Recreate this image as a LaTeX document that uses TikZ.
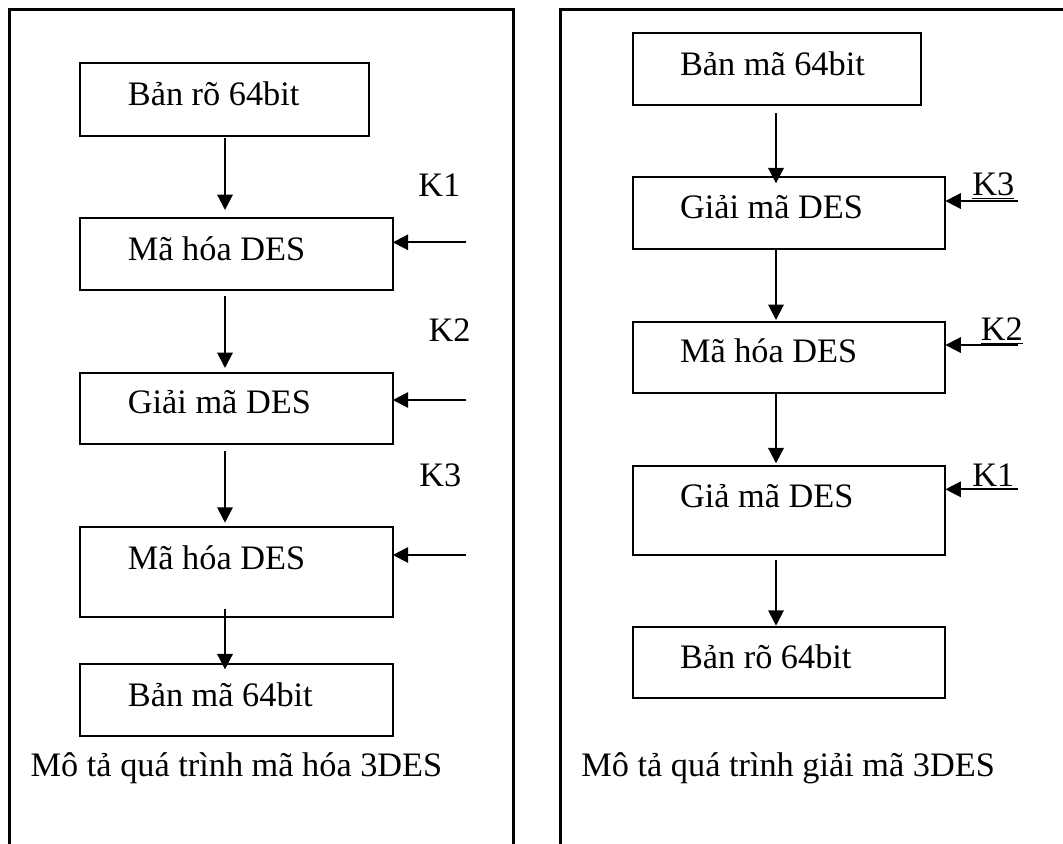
\documentclass[tikz,border=0pt]{standalone}
\usepackage{fontspec}
\setmainfont{Liberation Serif}
\usetikzlibrary{arrows.meta,calc}
% one drawing unit = 0.5pt
\newcommand\pxu{0.5pt}
% key label with an underline
\newcommand\keyline[1]{\setbox0=\hbox{#1}\rlap{\rule[-1.8pt]{\wd0}{0.8pt}}\box0}

\begin{document}
\begin{tikzpicture}[x=0.5pt,y=-0.5pt,
  box/.style={draw,line width=1pt,inner sep=0pt,outer sep=0pt,anchor=north west},
  lbl/.style={inner sep=0pt,anchor=base west,font=\fontsize{17.15}{20}\selectfont},
  arr/.style={line width=1pt,-{Triangle[length=7.7pt,width=7.7pt]}},
  frame/.style={line width=1.5pt}]
\useasboundingbox (0,0) rectangle (1063,843);

% outer frames
\draw[frame] (9,850) -- (9,9) -- (513,9) -- (513,850);
\draw[frame] (560,850) -- (560,9) -- (1070,9);

% ---------- encryption ----------
\coordinate (colL) at (225,0);
\node[box,minimum width=288.6*\pxu,minimum height=72.4*\pxu] (L1) at (80.2,63.3) {};
\node[box,minimum width=312.6*\pxu,minimum height=71.7*\pxu] (L2) at (80.2,218.3) {};
\node[box,minimum width=312.6*\pxu,minimum height=71.6*\pxu] (L3) at (80.2,372.7) {};
\node[box,minimum width=312.6*\pxu,minimum height=89.4*\pxu] (L4) at (80.2,527.3) {};
\node[box,minimum width=312.6*\pxu,minimum height=71.4*\pxu] (L5) at (80.2,664.3) {};

\node[lbl] (tL1) at (127.5,105.3) {Bản rõ 64bit};
\node[lbl] (tL2) at (127.5,260) {Mã hóa DES};
\node[lbl] (tL3) at (127.5,413.3) {Giải mã DES};
\node[lbl] (tL4) at (127.5,569) {Mã hóa DES};
\node[lbl] (tL5) at (127.5,706.7) {Bản mã 64bit};

\draw[arr] ($(L1.south -| colL)+(0,2.3)$) -- ($(L2.north -| colL)+(0,-8.3)$);
\draw[arr] ($(L2.south -| colL)+(0,6)$) -- ($(L3.north -| colL)+(0,-4.7)$);
\draw[arr] ($(L3.south -| colL)+(0,6.7)$) -- ($(L4.north -| colL)+(0,-4.6)$);
\draw[arr] ($(L4.south -| colL)+(0,-7.7)$) -- ($(L5.north -| colL)+(0,5)$);

\node[lbl] (kL1) at (418,196.7) {K1};
\node[lbl] (kL2) at (428.3,341.7) {K2};
\node[lbl] (kL3) at (419,486.7) {K3};
\coordinate (inL1) at (466.3,242.3);
\coordinate (inL2) at (466.3,400);
\coordinate (inL3) at (466.3,555);
\draw[arr] (inL1) -- (inL1 -| L2.east);
\draw[arr] (inL2) -- (inL2 -| L3.east);
\draw[arr] (inL3) -- (inL3 -| L4.east);

\node[lbl] (capL) at (30.3,776.7) {Mô tả quá trình mã hóa 3DES};

% ---------- decryption ----------
\coordinate (colR) at (776,0);
\node[box,minimum width=288.3*\pxu,minimum height=71.7*\pxu] (R1) at (632.6,33.3) {};
\node[box,minimum width=312.8*\pxu,minimum height=71.7*\pxu] (R2) at (632.6,177.3) {};
\node[box,minimum width=312.8*\pxu,minimum height=71.6*\pxu] (R3) at (632.6,321.7) {};
\node[box,minimum width=312.8*\pxu,minimum height=89.3*\pxu] (R4) at (632.6,465.7) {};
\node[box,minimum width=312.8*\pxu,minimum height=71.6*\pxu] (R5) at (632.6,626.7) {};

\node[lbl] (tR1) at (679.6,75) {Bản mã 64bit};
\node[lbl] (tR2) at (679.6,218.3) {Giải mã DES};
\node[lbl] (tR3) at (679.6,362.7) {Mã hóa DES};
\node[lbl] (tR4) at (679.6,507.3) {Giả mã DES};
\node[lbl] (tR5) at (679.6,668.3) {Bản rõ 64bit};

\draw[arr] ($(R1.south -| colR)+(0,8.3)$) -- ($(R2.north -| colR)+(0,6)$);
\draw[arr] (R2.south -| colR) -- ($(R3.north -| colR)+(0,-1.7)$);
\draw[arr] (R3.south -| colR) -- ($(R4.north -| colR)+(0,-2.4)$);
\draw[arr] ($(R4.south -| colR)+(0,5)$) -- ($(R5.north -| colR)+(0,-1)$);

\node[lbl] (kR3) at (971.9,195.7) {\keyline{K3}};
\node[lbl] (kR2) at (980.4,340.7) {\keyline{K2}};
\node[lbl] (kR1) at (971.9,486.7) {\keyline{K1}};
\coordinate (inR3) at (1018.4,201);
\coordinate (inR2) at (1018.4,345);
\coordinate (inR1) at (1018.4,489.3);
\draw[arr] (inR3) -- (inR3 -| R2.east);
\draw[arr] (inR2) -- (inR2 -| R3.east);
\draw[arr] (inR1) -- (inR1 -| R4.east);

\node[lbl] (capR) at (581,776.7) {Mô tả quá trình giải mã 3DES};
\end{tikzpicture}
\end{document}
